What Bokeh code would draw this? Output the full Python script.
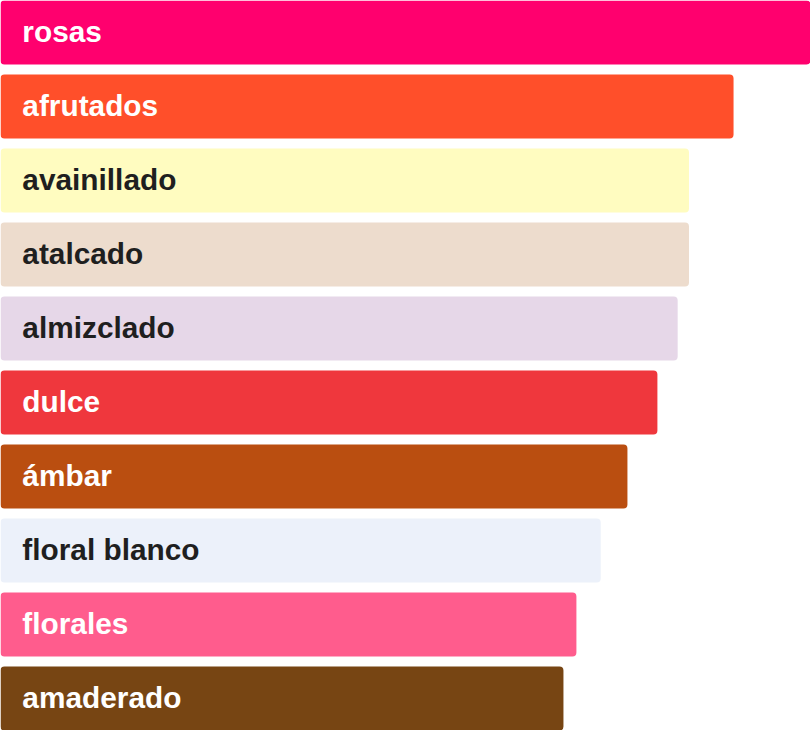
from bokeh.plotting import figure
from bokeh.models import ColumnDataSource, Range1d
from bokeh.core.properties import value
from bokeh.embed import file_html
from bokeh.resources import INLINE

categories = ["rosas", "afrutados", "avainillado", "atalcado", "almizclado",
              "dulce", "ámbar", "floral blanco", "florales", "amaderado"]
values = [100.0, 90.5, 85.0, 85.0, 83.6, 81.1, 77.4, 74.1, 71.1, 69.5]
colors = ["#FF006E", "#FF4F2A", "#FFFCC0", "#EDDCCD", "#E6D7E8",
          "#EF373D", "#BA4E10", "#ECF1FA", "#FF5C8D", "#774513"]
text_colors = ["#FFFFFF", "#FFFFFF", "#1F1F1F", "#1F1F1F", "#1F1F1F",
               "#FFFFFF", "#FFFFFF", "#1F1F1F", "#FFFFFF", "#FFFFFF"]

n = len(categories)
bar_h = 64 / 74
pos = list(range(n))

src = ColumnDataSource(dict(y=pos, v=values, c=colors, tc=text_colors,
                            name=categories, x0=[0] * n))

p = figure(width=810, height=730, output_backend="svg", toolbar_location=None,
           x_range=Range1d(0, 100), y_range=Range1d(n - 1 + bar_h / 2, -bar_h / 2),
           min_border=0, min_border_left=0, min_border_right=0,
           min_border_top=0, min_border_bottom=0)
p.axis.visible = False
p.grid.visible = False
p.outline_line_color = None
p.background_fill_color = "#FFFFFF"
p.border_fill_color = "#FFFFFF"

p.hbar(y="y", left="x0", right="v", height=bar_h, fill_color="c",
       line_color=None, border_radius=4, source=src)

p.text(x=2.7, y="y", text="name", text_color="tc", text_font=value("Liberation Sans"),
       text_font_style="bold", text_font_size="29.8px", text_baseline="middle",
       text_align="left", y_offset=-1, source=src)

open("out.html", "w").write(file_html(p, INLINE))
